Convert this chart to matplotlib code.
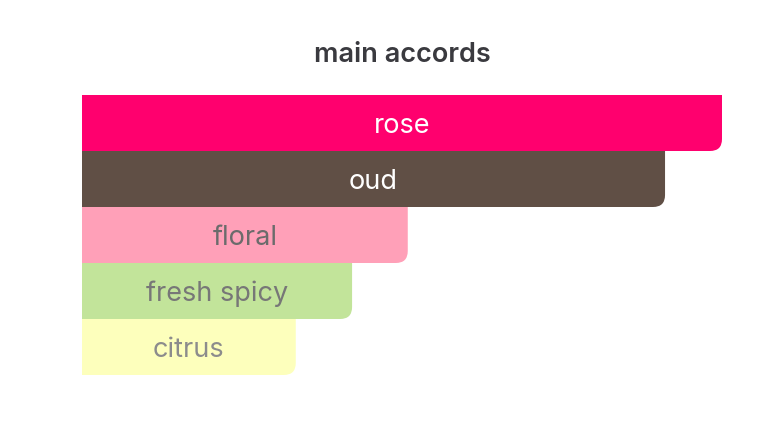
import numpy as np
import matplotlib.pyplot as plt
from matplotlib.path import Path
from matplotlib.patches import PathPatch

plt.rcParams['font.family'] = ['Inter', 'DejaVu Sans']

accords = ['rose', 'oud', 'floral', 'fresh spicy', 'citrus']
values = [100, 91.1, 50.9, 42.2, 33.4]
bar_colors = ['#ff006e', '#604f45', '#ffa0b8', '#c2e49a', '#fdffbc']
text_colors = ['#ffffff', '#ffffff', '#6b6b6b', '#777777', '#8c8c8c']

W, H = 760, 438
fig = plt.figure(figsize=(W / 100, H / 100), dpi=100)
ax = fig.add_axes([82 / W, 1 - 375 / H, 640 / W, 280 / H])
ax.set_xlim(0, 100)
ax.set_ylim(len(accords), 0)
ax.axis('off')

# corner radius in pixels -> data units
r_px = 12
rx = r_px / (640 / 100)
ry = r_px / (280 / len(accords))

for i, (name, v) in enumerate(zip(accords, values)):
    top, bot = i, i + 1
    verts = [(0, top), (v, top), (v, bot - ry), (v, bot), (v - rx, bot),
             (0, bot), (0, top)]
    codes = [Path.MOVETO, Path.LINETO, Path.LINETO, Path.CURVE3, Path.CURVE3,
             Path.LINETO, Path.CLOSEPOLY]
    ax.add_patch(PathPatch(Path(verts, codes), facecolor=bar_colors[i],
                           edgecolor='none'))
    ax.text(v / 2, i + 0.5, name, ha='center', va='center_baseline',
            fontsize=19.5, color=text_colors[i])

fig.text(402 / W, 1 - 52 / H, 'main accords', ha='center',
         va='center_baseline', fontsize=19.5, fontweight='semibold',
         color='#3a3a3f')

fig.savefig('out.png', dpi=100)
